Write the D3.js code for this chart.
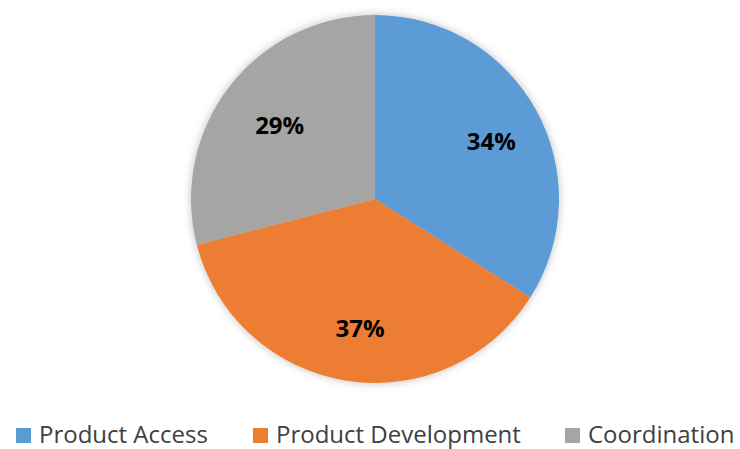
<!DOCTYPE html>
<html>
<head>
<meta charset="utf-8">
<script src="https://cdn.jsdelivr.net/npm/d3@7"></script>
<style>
  html, body { margin: 0; padding: 0; background: #ffffff; }
  svg { display: block; }
</style>
</head>
<body>
<svg id="chart" width="740" height="449"></svg>
<script>
// Share of effort by area (percent)
const categories = ["Product Access", "Product Development", "Coordination"];
const shares = [34, 37, 29];
const colors = ["#5B9BD5", "#ED7D31", "#A5A5A5"];

const width = 740, height = 449;
const cx = 375, cy = 199, radius = 184;
const font = "'Open Sans', Lato, sans-serif";

const svg = d3.select("#chart");

// Soft shadow around the pie
const defs = svg.append("defs");
const shadow = defs.append("filter")
  .attr("id", "pieShadow")
  .attr("x", "-20%").attr("y", "-20%")
  .attr("width", "140%").attr("height", "140%");
shadow.append("feDropShadow")
  .attr("dx", 0).attr("dy", 0)
  .attr("stdDeviation", 4)
  .attr("flood-color", "#000")
  .attr("flood-opacity", 0.25);

const color = d3.scaleOrdinal().domain(categories).range(colors);

const pie = d3.pie().sort(null).value(d => d.value);
const data = categories.map((c, i) => ({ name: c, value: shares[i] }));
const arcs = pie(data);

const arc = d3.arc().innerRadius(0).outerRadius(radius);
const labelArc = d3.arc().innerRadius(radius * 0.69).outerRadius(radius * 0.69);

const g = svg.append("g").attr("transform", `translate(${cx},${cy})`);

g.append("g").attr("filter", "url(#pieShadow)")
  .selectAll("path")
  .data(arcs)
  .join("path")
  .attr("d", arc)
  .attr("fill", d => color(d.data.name));

// Percentage labels; baseline set half a cap-height below the anchor point
const labelSize = 24;
g.selectAll("text.value")
  .data(arcs)
  .join("text")
  .attr("class", "value")
  .attr("transform", d => {
    const [x, y] = labelArc.centroid(d);
    return `translate(${x + 5},${y + 4 + labelSize * 0.357})`;
  })
  .attr("text-anchor", "middle")
  .attr("font-family", font)
  .attr("font-weight", "bold")
  .attr("font-size", labelSize)
  .attr("fill", "#000")
  .text(d => d.data.value + "%");

// Legend along the bottom
const legendX = [16, 253, 565];
const legend = svg.append("g")
  .selectAll("g")
  .data(categories)
  .join("g")
  .attr("transform", (d, i) => `translate(${legendX[i]},428)`);

legend.append("rect")
  .attr("width", 15).attr("height", 15)
  .attr("fill", d => color(d));

legend.append("text")
  .attr("x", 23).attr("y", 15.3)
  .attr("font-family", font)
  .attr("font-size", 24)
  .attr("fill", "#404040")
  .text(d => d);
</script>
</body>
</html>
